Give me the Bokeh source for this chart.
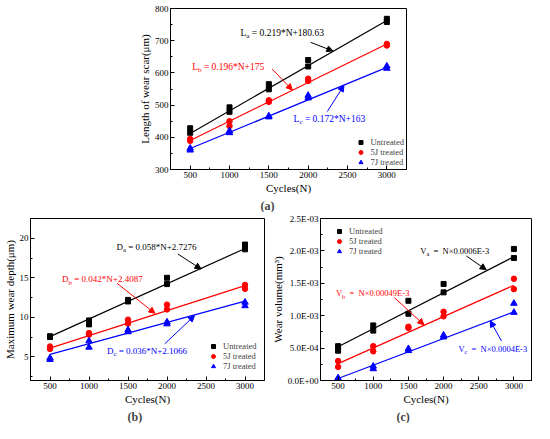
from bokeh.plotting import figure
from bokeh.models import Range1d, FixedTicker, Arrow, NormalHead, Title, Legend, LegendItem, Spacer
from bokeh.layouts import column, row
from bokeh.core.properties import value
from bokeh.embed import file_html
from bokeh.resources import INLINE

SERIF = "Liberation Serif"
BLACK, RED, BLUE = "#000000", "#ff0000", "#0000ff"
NB = "\u00a0"

# ---------------- data ----------------
cycles = [500, 1000, 1500, 2000, 3000]
fit_x = [500, 3000]
x_ticks = [500, 1000, 1500, 2000, 2500, 3000]
series_labels = ["Untreated", "5J treated", "7J treated"]

# (a) length of wear scar (um), two measurements per cycle count
len_untreated_1 = [428, 493, 565, 640, 768]
len_untreated_2 = [414, 479, 549, 620, 758]
len_5j_1 = [395, 450, 515, 582, 690]
len_5j_2 = [389, 435, 510, 575, 685]
len_7j_1 = [366, 420, 466, 530, 621]
len_7j_2 = [360, 414, 463, 522, 614]
len_fit_untreated = [412, 763]
len_fit_5j = [390, 690]
len_fit_7j = [365, 617]
len_ticks = [300, 400, 500, 600, 700, 800]

# (b) maximum wear depth (um)
dep_untreated_1 = [7.6, 9.6, 12.2, 15.0, 19.2]
dep_untreated_2 = [7.5, 9.1, 12.0, 14.2, 18.6]
dep_5j_1 = [6.3, 8.0, 9.7, 11.6, 14.1]
dep_5j_2 = [6.0, 7.8, 9.2, 11.0, 13.6]
dep_7j_1 = [4.85, 7.0, 8.4, 9.4, 11.9]
dep_7j_2 = [4.65, 6.2, 8.15, 9.15, 11.45]
dep_fit_untreated = [7.55, 18.7]
dep_fit_5j = [6.1, 14.0]
dep_fit_7j = [5.3, 12.05]
dep_ticks = [5, 10, 15, 20]

# (c) wear volume (mm^3)
vol_untreated_1 = [0.53e-3, 0.85e-3, 1.23e-3, 1.49e-3, 2.03e-3]
vol_untreated_2 = [0.46e-3, 0.77e-3, 1.03e-3, 1.36e-3, 1.89e-3]
vol_5j_1 = [0.30e-3, 0.53e-3, 0.83e-3, 1.06e-3, 1.57e-3]
vol_5j_2 = [0.21e-3, 0.45e-3, 0.81e-3, 0.99e-3, 1.41e-3]
vol_7j_1 = [0.04e-3, 0.22e-3, 0.49e-3, 0.70e-3, 1.19e-3]
vol_7j_2 = [0.02e-3, 0.18e-3, 0.46e-3, 0.67e-3, 1.05e-3]
vol_fit_untreated = [0.52e-3, 1.91e-3]
vol_fit_5j = [0.26e-3, 1.47e-3]
vol_fit_7j = [0.03e-3, 1.06e-3]
vol_ticks = [0.0, 0.5e-3, 1.0e-3, 1.5e-3, 2.0e-3, 2.5e-3]
vol_tick_labels = ["0.0E+00", "5.0E-04", "1.0E-03", "1.5E-03", "2.0E-03", "2.5E-03"]


def make_fig(width, height, xr, yr, yticks, yminor, ylabel, border):
    p = figure(width=width, height=height, x_range=Range1d(*xr), y_range=Range1d(*yr),
               output_backend="svg", toolbar_location=None,
               min_border_left=border[0], min_border_right=border[1],
               min_border_top=border[2], min_border_bottom=border[3])
    p.xaxis.ticker = FixedTicker(ticks=x_ticks, minor_ticks=[250, 750, 1250, 1750, 2250, 2750, 3250])
    p.yaxis.ticker = FixedTicker(ticks=yticks, minor_ticks=yminor)
    p.xaxis.axis_label = "Cycles(N)"
    p.yaxis.axis_label = ylabel
    for ax in (p.xaxis[0], p.yaxis[0]):
        ax.major_tick_in = 4
        ax.major_tick_out = 0
        ax.minor_tick_in = 2
        ax.minor_tick_out = 0
        ax.axis_line_color = "black"
        ax.major_tick_line_color = "black"
        ax.minor_tick_line_color = "black"
        ax.major_label_text_font = SERIF
        ax.major_label_text_font_size = "9px"
        ax.major_label_text_font_style = "normal"
        ax.major_label_text_color = "black"
        ax.axis_label_text_font = SERIF
        ax.axis_label_text_font_size = "11px"
        ax.axis_label_text_font_style = "normal"
        ax.axis_label_text_color = "black"
        ax.major_label_standoff = 2
        ax.axis_label_standoff = 1
    p.xgrid.visible = False
    p.ygrid.visible = False
    p.outline_line_color = "black"
    p.outline_line_alpha = 1
    p.outline_line_width = 1
    p.background_fill_color = "white"
    p.border_fill_color = "white"
    return p


def add_series(p, s1, s2, fit, marker, size, color):
    r = p.scatter(cycles, s1, marker=marker, size=size, color=color)
    p.scatter(cycles, s2, marker=marker, size=size, color=color)
    p.line(fit_x, fit, line_color=color, line_width=1.2)
    return r


def equation(p, x, y, base, sub, rest, color, fs, base_w, sub_w):
    common = dict(text_font=value(SERIF), text_color=color, text_baseline="middle", text_align="left")
    p.text(x=[x], y=[y], text=[base], text_font_size=f"{fs}px", **common)
    p.text(x=[x], y=[y], text=[sub], text_font_size=f"{fs * 0.75}px", x_offset=base_w, y_offset=3, **common)
    p.text(x=[x], y=[y], text=[rest], text_font_size=f"{fs}px", x_offset=base_w + sub_w, **common)


def arrow(p, xs, ys, xe, ye, color):
    p.add_layout(Arrow(end=NormalHead(size=6, fill_color=color, line_color=color, line_width=1),
                       x_start=xs, y_start=ys, x_end=xe, y_end=ye,
                       line_color=color, line_width=1))


def legend(p, renderers, location, padding, margin):
    lg = Legend(items=[LegendItem(label=l, renderers=[r]) for l, r in zip(series_labels, renderers)],
                location=location, padding=padding, margin=margin, spacing=0,
                glyph_width=10, glyph_height=10, label_height=10, label_standoff=5,
                label_text_font=SERIF, label_text_font_size="8.5px",
                border_line_color=None, background_fill_alpha=0)
    p.add_layout(lg)


def panel_title(p, txt, offset):
    p.add_layout(Title(text=txt, align="left", offset=offset, standoff=0, text_font=SERIF,
                       text_font_size="12px", text_font_style="bold"), "below")


# ---------------- (a) ----------------
pa = make_fig(279, 212, (250, 3250), (300, 800), len_ticks, [350, 450, 550, 650, 750],
              "Length of wear scar(\u03bcm)", (37, 6, 8, 42))
ra = [add_series(pa, len_untreated_1, len_untreated_2, len_fit_untreated, "square", 5, BLACK),
      add_series(pa, len_5j_1, len_5j_2, len_fit_5j, "circle", 5.5, RED),
      add_series(pa, len_7j_1, len_7j_2, len_fit_7j, "triangle", 6.5, BLUE)]
equation(pa, 1140, 725, "L", "a", NB + "= 0.219*N+180.63", BLACK, 9.5, 5.8, 3.1)
arrow(pa, 2031, 695, 2315, 668, BLACK)
equation(pa, 526, 618, "L", "b", NB + "= 0.196*N+175", RED, 9.5, 5.8, 3.5)
arrow(pa, 1543, 612, 1798, 547, RED)
equation(pa, 1815, 458, "L", "c", NB + "= 0.172*N+163", BLUE, 9.5, 5.8, 3.1)
arrow(pa, 2243, 480, 2455, 561, BLUE)
legend(pa, ra, "bottom_right", 4, 2)
panel_title(pa, "(a)", 90)

# ---------------- (b) ----------------
pb = make_fig(268, 211, (250, 3250), (2, 22.5), dep_ticks, [2.5, 7.5, 12.5, 17.5, 22.5],
              "Maximum wear depth(\u03bcm)", (30, 4, 6, 42))
rb = [add_series(pb, dep_untreated_1, dep_untreated_2, dep_fit_untreated, "square", 5, BLACK),
      add_series(pb, dep_5j_1, dep_5j_2, dep_fit_5j, "circle", 5.5, RED),
      add_series(pb, dep_7j_1, dep_7j_2, dep_fit_7j, "triangle", 6.5, BLUE)]
equation(pb, 1351, 18.9, "D", "a", NB + "= 0.058*N+2.7276", BLACK, 9, 6.5, 3.0)
arrow(pb, 2140, 18.0, 2437, 16.1, BLACK)
equation(pb, 655, 14.8, "D", "b", NB + "= 0.042*N+2.4087", RED, 9, 6.5, 3.4)
arrow(pb, 1360, 14.3, 1845, 10.5, RED)
equation(pb, 1230, 5.75, "D", "c", NB + "= 0.036*N+2.1066", BLUE, 9, 6.5, 3.0)
arrow(pb, 1972, 6.65, 2352, 10.2, BLUE)
legend(pb, rb, (178, 9), 3, 0)
panel_title(pb, "(b)", 97)

# ---------------- (c) ----------------
pc = make_fig(266, 211, (250, 3250), (0, 2.5e-3), vol_ticks,
              [0.25e-3, 0.75e-3, 1.25e-3, 1.75e-3, 2.25e-3],
              "Wear volume(mm\u00b3)", (50, 3, 6, 42))
pc.yaxis.major_label_overrides = {t: l for t, l in zip(vol_ticks, vol_tick_labels)}
rc = [add_series(pc, vol_untreated_1, vol_untreated_2, vol_fit_untreated, "square", 5, BLACK),
      add_series(pc, vol_5j_1, vol_5j_2, vol_fit_5j, "circle", 5.5, RED),
      add_series(pc, vol_7j_1, vol_7j_2, vol_fit_7j, "triangle", 6.5, BLUE)]
eq_rest = NB + NB + "=" + NB + NB + "N\u00d7"
equation(pc, 1670, 2.0e-3, "V", "a", eq_rest + "0.0006E-3", BLACK, 8.5, 6.1, 2.8)
arrow(pc, 2324, 1.92e-3, 2606, 1.71e-3, BLACK)
equation(pc, 470, 1.35e-3, "V", "b", eq_rest + "0.00049E-3", RED, 8.5, 6.1, 3.2)
arrow(pc, 1300, 1.28e-3, 1720, 0.86e-3, RED)
equation(pc, 2211, 0.49e-3, "V", "c", eq_rest + "0.0004E-3", BLUE, 8.5, 6.1, 2.8)
arrow(pc, 2823, 0.61e-3, 2664, 0.92e-3, BLUE)
legend(pc, rc, (14, 124), 3, 0)
panel_title(pc, "(c)", 76)

layout = column(row(Spacer(width=133, height=212), pa), row(pb, pc))
open("out.html", "w").write(file_html(layout, INLINE))
